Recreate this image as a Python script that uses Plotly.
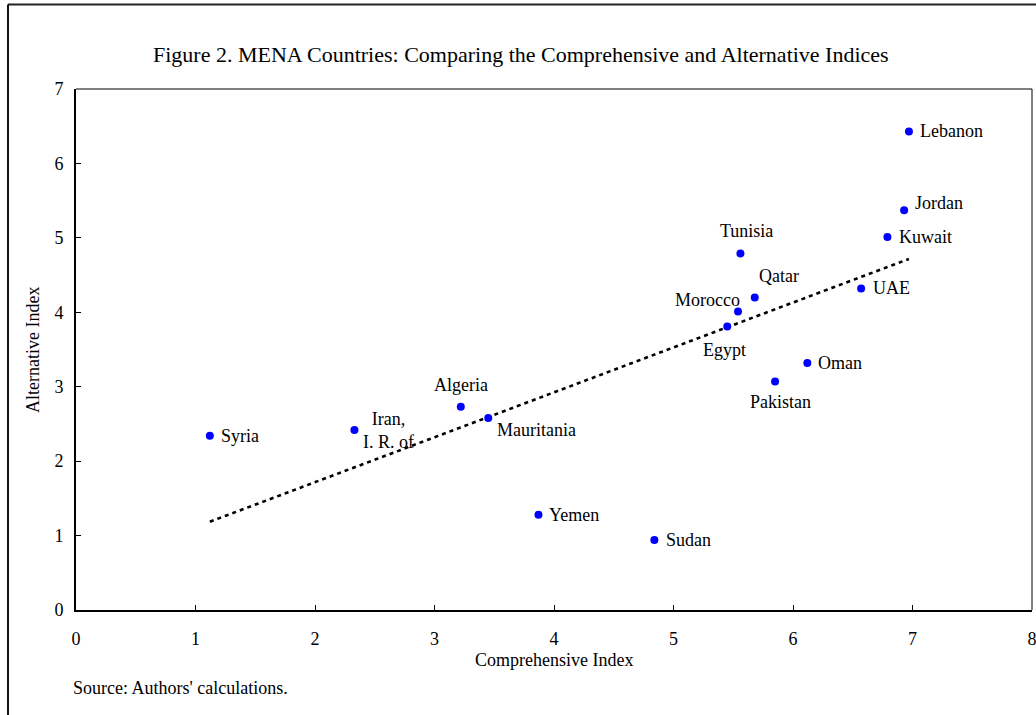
import numpy as np
import plotly.graph_objects as go

# Country scores on the two indices
countries = ["Syria", "Iran,<br>I. R. of", "Algeria", "Mauritania", "Yemen", "Sudan",
             "Egypt", "Morocco", "Tunisia", "Qatar", "Pakistan", "Oman", "UAE",
             "Kuwait", "Jordan", "Lebanon"]
comprehensive = [1.12, 2.33, 3.22, 3.45, 3.87, 4.84, 5.45, 5.54, 5.56, 5.68, 5.85,
                 6.12, 6.57, 6.79, 6.93, 6.97]
alternative = [2.34, 2.42, 2.73, 2.58, 1.28, 0.94, 3.81, 4.01, 4.79, 4.20, 3.07,
               3.32, 4.32, 5.01, 5.37, 6.43]

x_ticks = [0, 1, 2, 3, 4, 5, 6, 7, 8]
y_ticks = [0, 1, 2, 3, 4, 5, 6, 7]

# label placement per country: (xanchor, xshift px, yshift px)
label_place = [("left", 9, 0), ("center", 34, -1), ("center", 0, 22), ("left", 7, -12),
               ("left", 9, 0), ("left", 10, 0), ("center", -3, -24), ("right", 4, 12),
               ("center", 6, 22), ("center", 24, 21), ("center", 5, -20), ("left", 9, 0),
               ("left", 10, 0), ("left", 10, 0), ("left", 9, 7), ("left", 9, 0)]

FONT = "Liberation Serif, Times New Roman, serif"
TXT = 18
W, H = 1036, 715
ML, MR, MT, MB = 76, 4, 89, 105

# least-squares trend line across the data range
slope, intercept = np.polyfit(comprehensive, alternative, 1)
trend_x = [min(comprehensive), max(comprehensive)]
trend_y = [slope * v + intercept for v in trend_x]

fig = go.Figure()
fig.add_trace(go.Scatter(x=trend_x, y=trend_y, mode="lines",
                         line=dict(color="black", width=2.6, dash="4px,4px"),
                         hoverinfo="skip", showlegend=False))
fig.add_trace(go.Scatter(x=comprehensive, y=alternative, mode="markers",
                         marker=dict(color="#0000FF", size=8),
                         text=countries, showlegend=False))

annotations = []
for name, cx, cy, (anc, dx, dy) in zip(countries, comprehensive, alternative, label_place):
    annotations.append(dict(x=cx, y=cy, xref="x", yref="y", text=name, showarrow=False,
                            xanchor=anc, yanchor="middle", xshift=dx, yshift=dy,
                            align="center", font=dict(family=FONT, size=TXT, color="black")))

pw, ph = W - ML - MR, H - MT - MB


def px_x(p):
    return (p - ML) / pw


def px_y(p):
    return (H - MB - p) / ph


annotations += [
    dict(text="Figure 2. MENA Countries: Comparing the Comprehensive and Alternative Indices",
         xref="paper", yref="paper", x=px_x(521), y=px_y(55), showarrow=False,
         xanchor="center", yanchor="middle", font=dict(family=FONT, size=22, color="black")),
    dict(text="Comprehensive Index", xref="paper", yref="paper", x=px_x(554), y=px_y(660),
         showarrow=False, xanchor="center", yanchor="middle",
         font=dict(family=FONT, size=TXT, color="black")),
    dict(text="Alternative Index", xref="paper", yref="paper", x=px_x(33), y=px_y(350),
         showarrow=False, xanchor="center", yanchor="middle", textangle=-90,
         font=dict(family=FONT, size=TXT, color="black")),
    dict(text="Source: Authors' calculations.", xref="paper", yref="paper", x=px_x(71),
         y=px_y(688), showarrow=False, xanchor="left", yanchor="middle",
         font=dict(family=FONT, size=TXT, color="black")),
]

shapes = [
    # thin top and right edges of the plot box
    dict(type="line", xref="paper", yref="paper", x0=0, x1=1, y0=1, y1=1,
         line=dict(color="black", width=1)),
    dict(type="line", xref="paper", yref="paper", x0=1, x1=1, y0=0, y1=1,
         line=dict(color="black", width=1)),
    # outer frame of the figure
    dict(type="line", xref="paper", yref="paper", x0=px_x(8), x1=px_x(1100),
         y0=px_y(4.5), y1=px_y(4.5), line=dict(color="#222", width=2)),
    dict(type="line", xref="paper", yref="paper", x0=px_x(8), x1=px_x(8),
         y0=px_y(4.5), y1=px_y(800), line=dict(color="#111", width=2)),
]

axis_common = dict(showline=True, linecolor="black", linewidth=2, ticks="inside",
                   ticklen=5, tickwidth=1, tickcolor="black", showgrid=False,
                   zeroline=False, ticklabeloverflow="allow", automargin=False,
                   tickfont=dict(family=FONT, size=TXT, color="black"))

fig.update_layout(
    width=W, height=H,
    margin=dict(l=ML, r=MR, t=MT, b=MB),
    paper_bgcolor="white", plot_bgcolor="white",
    xaxis=dict(range=[0, 8], tickvals=x_ticks, ticklabelstandoff=11, **axis_common),
    yaxis=dict(range=[0, 7], tickvals=y_ticks, ticklabelstandoff=7, **axis_common),
    annotations=annotations, shapes=shapes,
    font=dict(family=FONT),
)

fig.write_html("out.html")
